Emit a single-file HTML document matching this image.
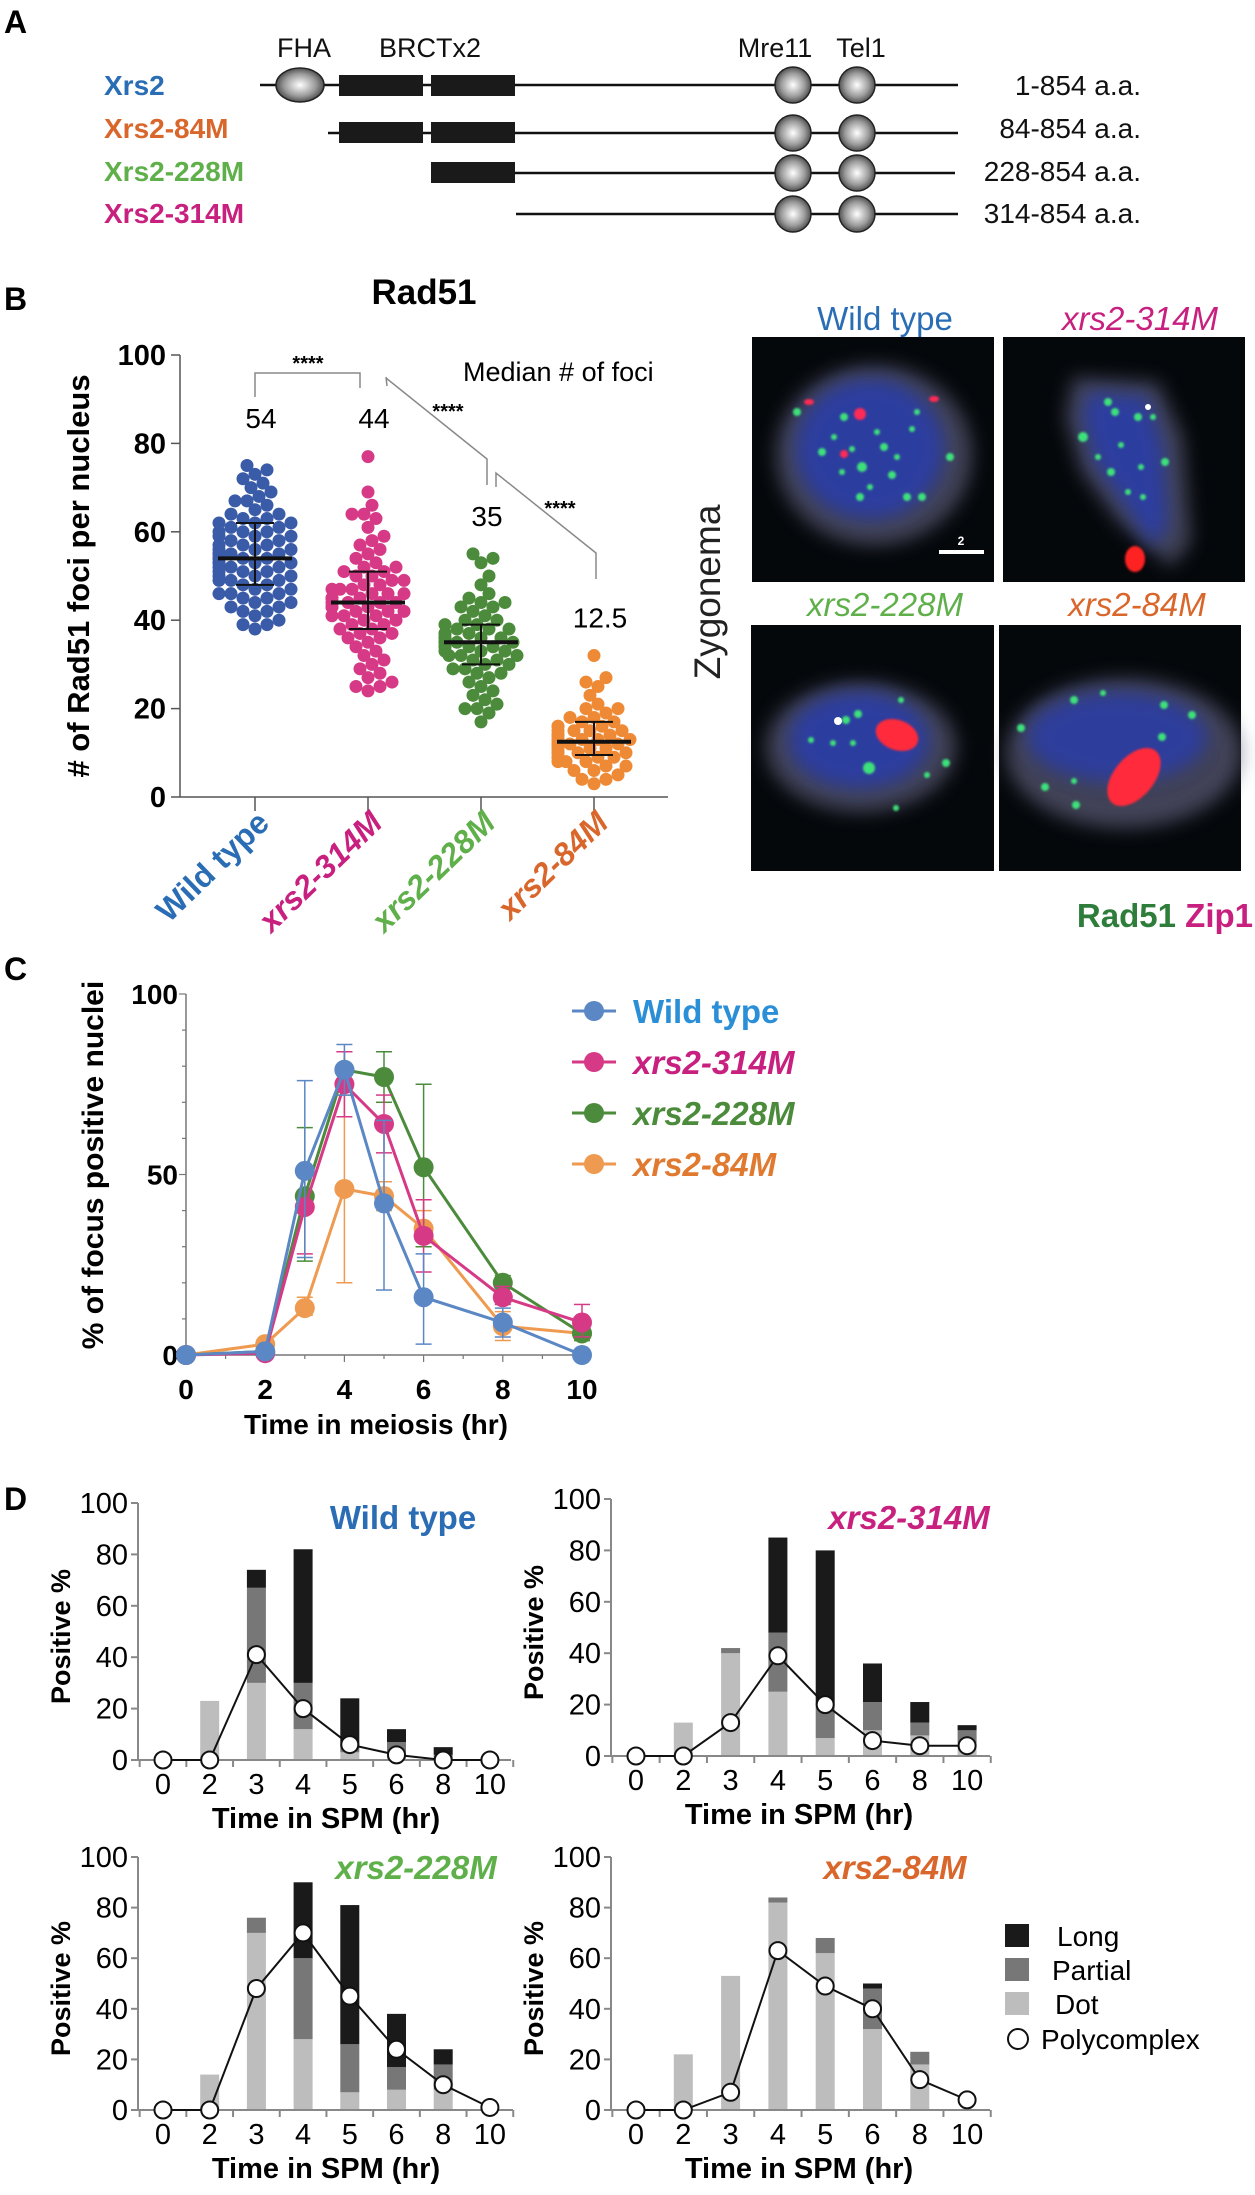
<!DOCTYPE html>
<html><head><meta charset="utf-8">
<style>
html,body{margin:0;padding:0;background:#fff;}
svg{display:block;font-family:"Liberation Sans",Arial,sans-serif;}
</style></head>
<body>
<svg id="fig" width="1255" height="2195" viewBox="0 0 1255 2195" xmlns="http://www.w3.org/2000/svg">
<defs>
<radialGradient id="sph" cx="0.5" cy="0.5" r="0.55">
<stop offset="0" stop-color="#ffffff"/><stop offset="0.6" stop-color="#9a9a9a"/><stop offset="1" stop-color="#3a3a3a"/>
</radialGradient>
<filter id="blur8" x="-50%" y="-50%" width="200%" height="200%"><feGaussianBlur stdDeviation="9"/></filter>
<filter id="blur1" x="-50%" y="-50%" width="200%" height="200%"><feGaussianBlur stdDeviation="1"/></filter>
</defs>

<!-- Panel A -->
<g>
<text x="4" y="33" font-size="32" font-weight="bold">A</text>
<g font-size="27" text-anchor="middle" fill="#111">
<text x="304" y="57">FHA</text>
<text x="430" y="57">BRCTx2</text>
<text x="775" y="57">Mre11</text>
<text x="861" y="57">Tel1</text>
</g>
<g font-size="28" font-weight="bold">
<text x="104" y="95" fill="#2a6db5">Xrs2</text>
<text x="104" y="138" fill="#d9662b">Xrs2-84M</text>
<text x="104" y="181" fill="#5fb04a">Xrs2-228M</text>
<text x="104" y="223" fill="#c8207f">Xrs2-314M</text>
</g>
<g stroke="#111" stroke-width="2.5">
<line x1="260" y1="85" x2="958" y2="85"/>
<line x1="328" y1="133" x2="958" y2="133"/>
<line x1="512" y1="173" x2="955" y2="173"/>
<line x1="516" y1="214" x2="958" y2="214"/>
</g>
<ellipse cx="300" cy="85" rx="24" ry="17" fill="url(#sph)" stroke="#222" stroke-width="1.5"/>
<g fill="#1a1a1a">
<rect x="339" y="75" width="84" height="21"/><rect x="431" y="75" width="84" height="21"/>
<rect x="339" y="122" width="84" height="21"/><rect x="431" y="122" width="84" height="21"/>
<rect x="431" y="162" width="84" height="21"/>
</g>
<g fill="url(#sph)" stroke="#222" stroke-width="1.5">
<circle cx="793" cy="85" r="18"/><circle cx="857" cy="85" r="18"/>
<circle cx="793" cy="133" r="18"/><circle cx="857" cy="133" r="18"/>
<circle cx="793" cy="173" r="18"/><circle cx="857" cy="173" r="18"/>
<circle cx="793" cy="214" r="18"/><circle cx="857" cy="214" r="18"/>
</g>
<g font-size="28" text-anchor="end" fill="#111">
<text x="1141" y="95">1-854 a.a.</text>
<text x="1141" y="138">84-854 a.a.</text>
<text x="1141" y="181">228-854 a.a.</text>
<text x="1141" y="223">314-854 a.a.</text>
</g>
</g>

<!-- Panel B -->
<g>
<text x="4" y="310" font-size="32" font-weight="bold">B</text>
<text x="424" y="304" font-size="35" font-weight="bold" text-anchor="middle">Rad51</text>
<text transform="translate(89,576) rotate(-90)" font-size="31" font-weight="bold" text-anchor="middle"># of Rad51 foci per nucleus</text>
<text x="463" y="381" font-size="27">Median # of foci</text>
<g id="bplot"></g>
<g fill="none" stroke="#888" stroke-width="1.5">
<polyline points="255,397 255,373 360,373 360,388"/>
<polyline points="386,377 387,386"/>
<polyline points="386,378 487,459 487,485"/>
<polyline points="496,487 496,473 596,553 596,579"/>
</g>
<g font-size="20" font-weight="bold" text-anchor="middle">
<text x="308" y="370">****</text><text x="448" y="418">****</text><text x="560" y="515">****</text>
</g>
</g>

<!-- Microscopy -->
<g>
<g font-size="33" text-anchor="middle">
<text x="885" y="330" fill="#2a6db5">Wild type</text>
<text x="1140" y="330" fill="#c8207f" font-style="italic">xrs2-314M</text>
<text x="885" y="616" fill="#5fb04a" font-style="italic">xrs2-228M</text>
<text x="1137" y="616" fill="#d9662b" font-style="italic">xrs2-84M</text>
</g>
<text transform="translate(720,592) rotate(-90)" font-size="37" text-anchor="middle" fill="#222">Zygonema</text>
<text x="1253" y="927" font-size="33" font-weight="bold" text-anchor="end"><tspan fill="#2e7d3a">Rad51</tspan> <tspan fill="#c8207f">Zip1</tspan></text>

<g transform="translate(752,337)">
<rect width="242" height="245" fill="#05080b"/>
<ellipse cx="122" cy="118" rx="98" ry="90" fill="#6a6a8a" opacity="0.6" filter="url(#blur8)"/>
<ellipse cx="118" cy="112" rx="74" ry="70" fill="#2c3ea8" opacity="0.9" filter="url(#blur8)"/>
<g fill="#3ee07a" filter="url(#blur1)"><circle cx="45" cy="75" r="4"/><circle cx="92" cy="80" r="4"/><circle cx="70" cy="115" r="4"/><circle cx="110" cy="130" r="5"/><circle cx="140" cy="138" r="4"/><circle cx="108" cy="160" r="4"/><circle cx="155" cy="160" r="4"/><circle cx="170" cy="160" r="4"/><circle cx="198" cy="120" r="4"/><circle cx="132" cy="110" r="4"/><circle cx="90" cy="135" r="3"/><circle cx="125" cy="95" r="3"/><circle cx="160" cy="92" r="3"/><circle cx="82" cy="100" r="3"/><circle cx="100" cy="112" r="3"/><circle cx="145" cy="120" r="3"/><circle cx="118" cy="150" r="3"/><circle cx="165" cy="75" r="3"/></g>
<g fill="#ff2a55" filter="url(#blur1)"><circle cx="108" cy="77" r="6"/><circle cx="92" cy="117" r="4"/><ellipse cx="57" cy="65" rx="5" ry="3"/><ellipse cx="182" cy="62" rx="5" ry="3"/></g>
<rect x="187" y="213" width="45" height="4" fill="#fff"/>
<text x="209" y="208" font-size="12" font-weight="bold" fill="#fff" text-anchor="middle">2</text>
</g>
<g transform="translate(1003,337)">
<rect width="242" height="245" fill="#05080b"/>
<path d="M70,40 L155,45 L180,100 L188,205 L168,230 L115,185 L78,135 L62,80 Z" fill="#6a6a8a" opacity="0.6" filter="url(#blur8)"/>
<path d="M85,55 L145,60 L160,110 L165,190 L150,210 L120,165 L92,125 L80,80 Z" fill="#2c3ea8" opacity="0.9" filter="url(#blur8)"/>
<g fill="#3ee07a" filter="url(#blur1)"><circle cx="80" cy="100" r="5"/><circle cx="105" cy="65" r="4"/><circle cx="135" cy="80" r="4"/><circle cx="150" cy="80" r="3"/><circle cx="108" cy="135" r="4"/><circle cx="162" cy="125" r="4"/><circle cx="125" cy="155" r="3"/><circle cx="140" cy="160" r="3"/><circle cx="95" cy="120" r="3"/><circle cx="118" cy="108" r="3"/><circle cx="112" cy="75" r="4"/><circle cx="138" cy="130" r="3"/></g>
<circle cx="145" cy="70" r="3" fill="#fff"/>
<ellipse cx="132" cy="222" rx="10" ry="13" fill="#ff2020" filter="url(#blur1)"/>
</g>
<g transform="translate(751,625)">
<rect width="243" height="246" fill="#05080b"/>
<ellipse cx="110" cy="122" rx="95" ry="65" fill="#6a6a8a" opacity="0.6" filter="url(#blur8)"/>
<ellipse cx="108" cy="115" rx="70" ry="48" fill="#2c3ea8" opacity="0.9" filter="url(#blur8)"/>
<g fill="#3ee07a" filter="url(#blur1)"><circle cx="107" cy="89" r="4"/><circle cx="95" cy="95" r="4"/><circle cx="118" cy="143" r="6"/><circle cx="195" cy="138" r="4"/><circle cx="150" cy="75" r="3"/><circle cx="82" cy="118" r="3"/><circle cx="145" cy="183" r="3"/><circle cx="176" cy="150" r="3"/><circle cx="60" cy="115" r="3"/><circle cx="102" cy="118" r="3"/></g>
<circle cx="87" cy="96" r="4" fill="#fff"/>
<ellipse cx="146" cy="110" rx="22" ry="15" transform="rotate(20 146 110)" fill="#ff2a3a" filter="url(#blur1)"/>
</g>
<g transform="translate(999,625)">
<rect width="242" height="246" fill="#05080b"/>
<ellipse cx="125" cy="128" rx="118" ry="75" fill="#6a6a8a" opacity="0.6" filter="url(#blur8)"/>
<ellipse cx="118" cy="112" rx="90" ry="45" fill="#2c3ea8" opacity="0.85" filter="url(#blur8)"/>
<g fill="#3ee07a" filter="url(#blur1)"><circle cx="75" cy="75" r="4"/><circle cx="104" cy="68" r="3"/><circle cx="165" cy="80" r="4"/><circle cx="193" cy="90" r="4"/><circle cx="163" cy="112" r="4"/><circle cx="22" cy="103" r="4"/><circle cx="46" cy="162" r="4"/><circle cx="77" cy="180" r="4"/><circle cx="75" cy="156" r="3"/><circle cx="128" cy="150" r="3"/></g>
<ellipse cx="135" cy="152" rx="20" ry="34" transform="rotate(40 135 152)" fill="#ff2a3a" filter="url(#blur1)"/>
</g>
</g>

<!-- Panel C -->
<g>
<text x="4" y="980" font-size="32" font-weight="bold">C</text>
<text transform="translate(103,1165) rotate(-90)" font-size="30" font-weight="bold" text-anchor="middle">% of focus positive nuclei</text>
<text x="376" y="1434" font-size="28" font-weight="bold" text-anchor="middle">Time in meiosis (hr)</text>
<g id="cplot"></g>
</g>

<!-- Panel D -->
<g>
<text x="4" y="1510" font-size="32" font-weight="bold">D</text>
<g id="dplot"></g>
<g font-size="28">
<rect x="1005" y="1924" width="24" height="23" fill="#1a1a1a"/><text x="1057" y="1946">Long</text>
<rect x="1005" y="1958" width="24" height="23" fill="#777"/><text x="1052" y="1980">Partial</text>
<rect x="1005" y="1992" width="24" height="23" fill="#bdbdbd"/><text x="1055" y="2014">Dot</text>
<circle cx="1018" cy="2039" r="10" fill="#fff" stroke="#111" stroke-width="2"/><text x="1041" y="2049">Polycomplex</text>
</g>
</g>
</svg>

<script>
// ---------- Panel B data ----------
const bGroups = ['Wild type', 'xrs2-314M', 'xrs2-228M', 'xrs2-84M'];
const bMedians = [54, 44, 35, 12.5];
const bMedianLabels = ['54', '44', '35', '12.5'];
const bLow = [48, 38, 30, 9.5];
const bHigh = [62, 51, 39, 17];
const bYTicks = [0, 20, 40, 60, 80, 100];
const fociWT = [75,74,73,72,71,70,69,68,67,67,66,65,64,64,63,63,62,62,62,61,61,60,60,60,59,59,59,58,58,57,57,57,56,56,56,55,55,55,55,54,54,54,54,53,53,53,53,52,52,52,51,51,51,50,50,50,49,49,49,48,48,47,47,46,46,46,45,45,44,44,43,43,42,42,41,40,39,39,38];
const foci314 = [77,69,66,64,64,63,61,59,58,57,56,55,54,53,52,52,51,51,50,50,49,49,48,48,47,47,47,46,46,46,45,45,45,44,44,44,44,43,43,43,42,42,42,41,41,41,40,40,39,39,38,38,37,37,36,36,35,34,33,32,31,30,29,28,27,26,25,25,24];
const foci228 = [55,54,53,50,48,46,45,44,44,43,43,42,41,40,40,39,39,38,38,38,37,37,37,36,36,36,36,35,35,35,35,35,34,34,34,34,33,33,33,32,32,32,31,31,30,30,29,29,28,28,27,26,25,24,23,22,21,20,20,19,17];
const foci84 = [32,27,26,25,23,21,20,20,19,18,18,17,17,16,16,16,15,15,15,15,14,14,14,14,13,13,13,13,13,12,12,12,12,12,11,11,11,11,11,10,10,10,10,9,9,9,9,8,8,8,7,7,6,6,5,4,4,3];

// ---------- Panel C data ----------
const cTimes = [0, 2, 3, 4, 5, 6, 8, 10];
const cXTicks = [0, 2, 4, 6, 8, 10];
const cYTicks = [0, 50, 100];
const cNames = ['Wild type', 'xrs2-314M', 'xrs2-228M', 'xrs2-84M'];
const cWT = [0, 1, 51, 79, 42, 16, 9, 0];
const cWTlo = [0, 1, 27, 72, 18, 3, 5, 0];
const cWThi = [0, 1, 76, 86, 65, 28, 13, 0];
const c314 = [0, 0.5, 41, 75, 64, 33, 16, 9];
const c314lo = [0, 0.5, 28, 66, 56, 23, 14, 5];
const c314hi = [0, 0.5, 50, 84, 72, 43, 19, 14];
const c228 = [0, 1, 44, 79, 77, 52, 20, 6];
const c228lo = [0, 1, 26, 74, 70, 30, 17, 4];
const c228hi = [0, 1, 63, 84, 84, 75, 22, 8];
const c84 = [0, 3, 13, 46, 44, 35, 8, 6];
const c84lo = [0, 3, 11, 20, 40, 30, 4, 4];
const c84hi = [0, 3, 16, 72, 48, 40, 12, 8];

// ---------- Panel D data ----------
const dCats = ['0', '2', '3', '4', '5', '6', '8', '10'];
const dYTicks = [0, 20, 40, 60, 80, 100];
const dTitles = ['Wild type', 'xrs2-314M', 'xrs2-228M', 'xrs2-84M'];
const dDotWT = [0, 23, 30, 12, 3, 3, 1, 0];
const dPartWT = [0, 0, 37, 18, 2, 4, 1, 0];
const dLongWT = [0, 0, 7, 52, 19, 5, 3, 0];
const dPolyWT = [0, 0, 41, 20, 6, 2, 0, 0];
const dDot314 = [0, 13, 40, 25, 7, 10, 8, 5];
const dPart314 = [0, 0, 2, 23, 13, 11, 5, 5];
const dLong314 = [0, 0, 0, 37, 60, 15, 8, 2];
const dPoly314 = [0, 0, 13, 39, 20, 6, 4, 4];
const dDot228 = [0, 14, 70, 28, 7, 8, 8, 0];
const dPart228 = [0, 0, 6, 32, 19, 9, 10, 0];
const dLong228 = [0, 0, 0, 30, 55, 21, 6, 0];
const dPoly228 = [0, 0, 48, 70, 45, 24, 10, 1];
const dDot84 = [0, 22, 53, 82, 62, 32, 18, 0];
const dPart84 = [0, 0, 0, 2, 6, 16, 5, 0];
const dLong84 = [0, 0, 0, 0, 0, 2, 0, 0];
const dPoly84 = [0, 0, 7, 63, 49, 40, 12, 4];

const NS = 'http://www.w3.org/2000/svg';
function mk(tag, attrs, parent) {
  const e = document.createElementNS(NS, tag);
  for (const k in attrs) e.setAttribute(k, attrs[k]);
  parent.appendChild(e);
  return e;
}

// ===== Panel B =====
(function () {
  const g = document.getElementById('bplot');
  const x0 = 180, x1 = 668, yTop = 355, yBot = 797;
  const Y = v => yBot - (v / 100) * (yBot - yTop);
  const X = i => 255 + i * 113;
  const colors = ['#3a5ba8', '#d63a86', '#4b8b3b', '#ee8a35'];
  const labelColors = ['#2a6db5', '#c8207f', '#5fb04a', '#d9662b'];
  const sets = [fociWT, foci314, foci228, foci84];
  let a = mk('line', {x1: x0, y1: yTop, x2: x0, y2: yBot, stroke: '#555', 'stroke-width': 1.5}, g);
  
  
  a = mk('line', {x1: x0, y1: yBot, x2: x1, y2: yBot, stroke: '#555', 'stroke-width': 1.5}, g);
  
  
  bYTicks.forEach(t => {
    mk('line', {x1: x0 - 9, y1: Y(t), x2: x0, y2: Y(t), stroke: '#555', 'stroke-width': 1.5}, g);
    const tx = mk('text', {x: x0 - 14, y: Y(t) + 10, 'font-size': 29, 'font-weight': 'bold', 'text-anchor': 'end'}, g);
    tx.textContent = t;
    
    
  });
  bGroups.forEach((name, i) => {
    const cx = X(i);
    mk('line', {x1: cx, y1: yBot, x2: cx, y2: yBot + 14, stroke: '#555', 'stroke-width': 1.5}, g);
    const dg = mk('g', {fill: colors[i]}, g);
    
    
    const placed = [];
    const r = 6.5;
    sets[i].slice().sort((p, q) => p - q).forEach(v => {
      const y = Y(v);
      let best = 0;
      for (let k = 0; k < 40; k++) {
        const off = (k % 2 ? 1 : -1) * Math.ceil(k / 2) * 4;
        if (Math.abs(off) > 38) break;
        const ok = placed.every(p => (p[0] - off) ** 2 + (p[1] - y) ** 2 > (2 * r * 0.75) ** 2);
        best = off;
        if (ok) break;
      }
      placed.push([best, y]);
      const c = mk('circle', {cx: cx + best, cy: y, r: r}, dg);
      
      
    });
    const eg = mk('g', {stroke: '#111', 'stroke-width': 2}, g);
    
    
    mk('line', {x1: cx - 37, x2: cx + 37, y1: Y(bMedians[i]), y2: Y(bMedians[i]), 'stroke-width': 4}, eg);
    mk('line', {x1: cx, x2: cx, y1: Y(bLow[i]), y2: Y(bHigh[i])}, eg);
    mk('line', {x1: cx - 19, x2: cx + 19, y1: Y(bLow[i]), y2: Y(bLow[i])}, eg);
    mk('line', {x1: cx - 19, x2: cx + 19, y1: Y(bHigh[i]), y2: Y(bHigh[i])}, eg);
    const maxV = Math.max.apply(null, sets[i]);
    const ml = mk('text', {x: cx + 6, y: i < 2 ? 428 : Y(maxV) - 28, 'font-size': 28, 'text-anchor': 'middle'}, g);
    ml.textContent = bMedianLabels[i];
    
    
    const xl = mk('text', {transform: 'translate(' + (cx + 16) + ',' + (yBot + 28) + ') rotate(-44)', 'font-size': 32, 'font-weight': 'bold', 'text-anchor': 'end', fill: labelColors[i]}, g);
    if (i > 0) xl.setAttribute('font-style', 'italic');
    xl.textContent = name;
    
    
  });
})();

// ===== Panel C =====
(function () {
  const g = document.getElementById('cplot');
  const x0 = 186, x10 = 582, yTop = 994, yBot = 1355;
  const X = t => x0 + (t / 10) * (x10 - x0);
  const Y = v => yBot - (v / 100) * (yBot - yTop);
  let a = mk('line', {x1: x0, y1: yTop, x2: x0, y2: yBot + 1, stroke: '#777', 'stroke-width': 1.5}, g);
  
  
  a = mk('line', {x1: x0, y1: yBot, x2: x10, y2: yBot, stroke: '#777', 'stroke-width': 1.5}, g);
  
  
  for (let t = 0; t <= 10; t++) mk('line', {x1: X(t), x2: X(t), y1: yBot, y2: yBot + (t % 2 ? 4 : 7), stroke: '#777', 'stroke-width': 1.2}, g);
  for (let v = 0; v <= 100; v += 10) mk('line', {x1: x0 - (v % 50 ? 4 : 7), x2: x0, y1: Y(v), y2: Y(v), stroke: '#777', 'stroke-width': 1.2}, g);
  cXTicks.forEach(t => {
    const tx = mk('text', {x: X(t), y: 1399, 'font-size': 28, 'font-weight': 'bold', 'text-anchor': 'middle'}, g);
    tx.textContent = t;
    
    
  });
  cYTicks.forEach(v => {
    const tx = mk('text', {x: x0 - 8, y: Y(v) + 10, 'font-size': 28, 'font-weight': 'bold', 'text-anchor': 'end'}, g);
    tx.textContent = v;
    
    
  });
  const series = [
    {n: cNames[3], v: c84, lo: c84lo, hi: c84hi, c: '#ee9a50', t: '#e07a30'},
    {n: cNames[2], v: c228, lo: c228lo, hi: c228hi, c: '#4b8b3b', t: '#4b8b3b'},
    {n: cNames[1], v: c314, lo: c314lo, hi: c314hi, c: '#d63a86', t: '#c8207f'},
    {n: cNames[0], v: cWT, lo: cWTlo, hi: cWThi, c: '#5b87c5', t: '#2a8fd6'}
  ];
  series.forEach(s => {
    const sg = mk('g', {}, g);
    
    
    cTimes.forEach((t, i) => {
      if (s.hi[i] - s.lo[i] > 0.5) {
        mk('line', {x1: X(t), x2: X(t), y1: Y(s.lo[i]), y2: Y(s.hi[i]), stroke: s.c, 'stroke-width': 1.5}, sg);
        mk('line', {x1: X(t) - 8, x2: X(t) + 8, y1: Y(s.lo[i]), y2: Y(s.lo[i]), stroke: s.c, 'stroke-width': 1.5}, sg);
        mk('line', {x1: X(t) - 8, x2: X(t) + 8, y1: Y(s.hi[i]), y2: Y(s.hi[i]), stroke: s.c, 'stroke-width': 1.5}, sg);
      }
    });
    const pl = mk('polyline', {points: cTimes.map((t, i) => X(t) + ',' + Y(s.v[i])).join(' '), fill: 'none', stroke: s.c, 'stroke-width': 3}, sg);
    
    
    cTimes.forEach((t, i) => {
      const c = mk('circle', {cx: X(t), cy: Y(s.v[i]), r: 10, fill: s.c}, sg);
      
      
    });
  });
  const lg = mk('g', {}, g);
  
  
  const ref = [series[3], series[2], series[1], series[0]];
  ref.forEach((s, k) => {
    const y = 1011 + k * 51;
    mk('line', {x1: 572, x2: 616, y1: y, y2: y, stroke: s.c, 'stroke-width': 3}, lg);
    mk('circle', {cx: 594, cy: y, r: 10, fill: s.c}, lg);
    const tx = mk('text', {x: 633, y: y + 12, 'font-size': 33, 'font-weight': 'bold', fill: s.t}, lg);
    if (k > 0) tx.setAttribute('font-style', 'italic');
    tx.textContent = s.n;
    
    
  });
})();

// ===== Panel D =====
(function () {
  const g = document.getElementById('dplot');
  const panels = [
    {ax: 138, yTop: 1503, yBot: 1760, end: 511, c0: 163, sp: 46.7, dot: dDotWT, part: dPartWT, lng: dLongWT, poly: dPolyWT, title: dTitles[0], tx: 403, ty: 1529, col: '#2a6db5', it: false},
    {ax: 611, yTop: 1499, yBot: 1756, end: 990, c0: 636, sp: 47.3, dot: dDot314, part: dPart314, lng: dLong314, poly: dPoly314, title: dTitles[1], tx: 909, ty: 1529, col: '#c8207f', it: true},
    {ax: 138, yTop: 1857, yBot: 2110, end: 513, c0: 163, sp: 46.7, dot: dDot228, part: dPart228, lng: dLong228, poly: dPoly228, title: dTitles[2], tx: 416, ty: 1879, col: '#5fb04a', it: true},
    {ax: 611, yTop: 1857, yBot: 2110, end: 990, c0: 636, sp: 47.3, dot: dDot84, part: dPart84, lng: dLong84, poly: dPoly84, title: dTitles[3], tx: 895, ty: 1879, col: '#d9662b', it: true}
  ];
  panels.forEach(p => {
    const pg = mk('g', {}, g);
    
    
    const Y = v => p.yBot - (v / 100) * (p.yBot - p.yTop);
    const X = i => p.c0 + i * p.sp;
    dCats.forEach((c, i) => {
      const bw = 19;
      let base = 0;
      [[p.dot[i], '#bdbdbd', 'bar-dot'], [p.part[i], '#777', 'bar-partial'], [p.lng[i], '#1a1a1a', 'bar-long']].forEach(seg => {
        if (seg[0] > 0) {
          const r = mk('rect', {x: X(i) - bw / 2, y: Y(base + seg[0]), width: bw, height: Y(base) - Y(base + seg[0]), fill: seg[1]}, pg);
          
          
        }
        base += seg[0];
      });
    });
    mk('line', {x1: p.ax, x2: p.ax, y1: p.yTop, y2: p.yBot, stroke: '#888', 'stroke-width': 2}, pg);
    mk('line', {x1: p.ax, x2: p.end, y1: p.yBot, y2: p.yBot, stroke: '#888', 'stroke-width': 2}, pg);
    dYTicks.forEach(t => {
      mk('line', {x1: p.ax - 7, x2: p.ax, y1: Y(t), y2: Y(t), stroke: '#888', 'stroke-width': 2}, pg);
      const tx = mk('text', {x: p.ax - 10, y: Y(t) + 10, 'font-size': 29, 'text-anchor': 'end'}, pg);
      tx.textContent = t;
      
      
    });
    for (let i = 0; i <= dCats.length; i++) mk('line', {x1: X(i) - p.sp / 2, x2: X(i) - p.sp / 2, y1: p.yBot, y2: p.yBot + 7, stroke: '#888', 'stroke-width': 2}, pg);
    dCats.forEach((c, i) => {
      const tx = mk('text', {x: X(i), y: p.yBot + 34, 'font-size': 29, 'text-anchor': 'middle'}, pg);
      tx.textContent = c;
      
      
    });
    const xt = mk('text', {x: p.ax + 188, y: p.yBot + 68, 'font-size': 29, 'font-weight': 'bold', 'text-anchor': 'middle'}, pg);
    xt.textContent = 'Time in SPM (hr)';
    
    
    const yt = mk('text', {transform: 'translate(' + (p.ax - 68) + ',' + ((p.yTop + p.yBot) / 2 + 5) + ') rotate(-90)', 'font-size': 27, 'font-weight': 'bold', 'text-anchor': 'middle'}, pg);
    yt.textContent = 'Positive %';
    
    
    const pl = mk('polyline', {points: dCats.map((c, i) => X(i) + ',' + Y(p.poly[i])).join(' '), fill: 'none', stroke: '#111', 'stroke-width': 2}, pg);
    
    
    dCats.forEach((c, i) => {
      const cc = mk('circle', {cx: X(i), cy: Y(p.poly[i]), r: 8.5, fill: '#fff', stroke: '#111', 'stroke-width': 2}, pg);
      
      
    });
    const tt = mk('text', {x: p.tx, y: p.ty, 'font-size': 33, 'font-weight': 'bold', 'text-anchor': 'middle', fill: p.col}, pg);
    if (p.it) tt.setAttribute('font-style', 'italic');
    tt.textContent = p.title;
    
    
  });
})();
</script>
</body></html>
